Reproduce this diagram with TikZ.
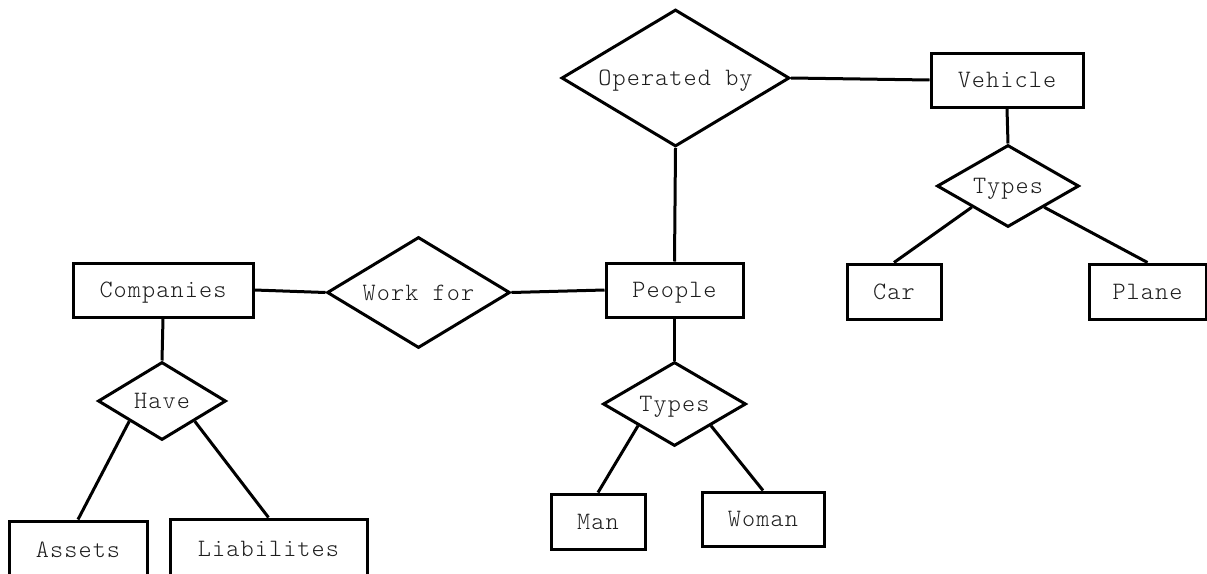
\documentclass[tikz,border=0pt]{standalone}
\usepackage{fontspec}
\setmonofont[LetterSpace=4.4]{Latin Modern Mono Light}
\usetikzlibrary{shapes.geometric}
\definecolor{ink}{HTML}{1E1E1E}
\tikzset{
  label text/.style={text=ink, text height=15.3pt, text depth=0pt,
    font=\ttfamily\fontsize{25}{29}\selectfont},
  entity/.style={draw, line width=3pt, inner sep=0pt, label text},
  relation/.style={draw, diamond, line width=3pt, inner sep=0pt, label text},
  link/.style={line width=3pt},
}
\begin{document}
\begin{tikzpicture}[x=1pt, y=-1pt]
\useasboundingbox (0,0) rectangle (1207,573);

% relationships
\node[relation, minimum width=228pt, minimum height=137pt, shape aspect=1.66] (opby) at (675.5,78) {Operated by};
\node[relation, minimum width=142pt, minimum height=82pt, shape aspect=1.73] (vtypes) at (1008,186) {Types};
\node[relation, minimum width=183pt, minimum height=111pt, shape aspect=1.65] (workfor) at (418.5,292.5) {Work for};
\node[relation, minimum width=128pt, minimum height=78pt, shape aspect=1.64] (have) at (162,401) {Have};
\node[relation, minimum width=143pt, minimum height=84pt, shape aspect=1.7] (ptypes) at (674.5,404) {Types};

% entities
\node[entity, minimum width=152pt, minimum height=54pt] (vehicle) at (1007,80) {Vehicle};
\node[entity, minimum width=94pt, minimum height=55pt] (car) at (894,291.5) {Car};
\node[entity, minimum width=117pt, minimum height=55pt] (plane) at (1147.5,291.5) {Plane};
\node[entity, minimum width=137pt, minimum height=54pt] (people) at (674.5,290) {People};
\node[entity, minimum width=180pt, minimum height=54pt] (companies) at (163,290) {Companies};
\node[entity, minimum width=138pt, minimum height=57pt] (assets) at (78,549.5) {Assets};
\node[entity, minimum width=197pt, minimum height=59pt] (liab) at (268.5,548.5) {Liabilites};
\node[entity, minimum width=94pt, minimum height=55pt] (man) at (598,521.5) {Man};
\node[entity, minimum width=122pt, minimum height=54pt] (woman) at (763,519) {Woman};

% connectors
\draw[link] (opby.east) -- (vehicle.west);
\draw[link] (opby.south) -- (people.north);
\draw[link] (vehicle.south) -- (vtypes.north);
\draw[link] (vtypes.south west) -- (car.north);
\draw[link] (vtypes.south east) -- (plane.north);
\draw[link] (companies.east) -- (workfor.west);
\draw[link] (workfor.east) -- (people.west);
\draw[link] (companies.south) -- (have.north);
\draw[link] (have.south west) -- (assets.north);
\draw[link] (have.south east) -- (liab.north);
\draw[link] (people.south) -- (ptypes.north);
\draw[link] (ptypes.south west) -- (man.north);
\draw[link] (ptypes.south east) -- (woman.north);
\end{tikzpicture}
\end{document}
